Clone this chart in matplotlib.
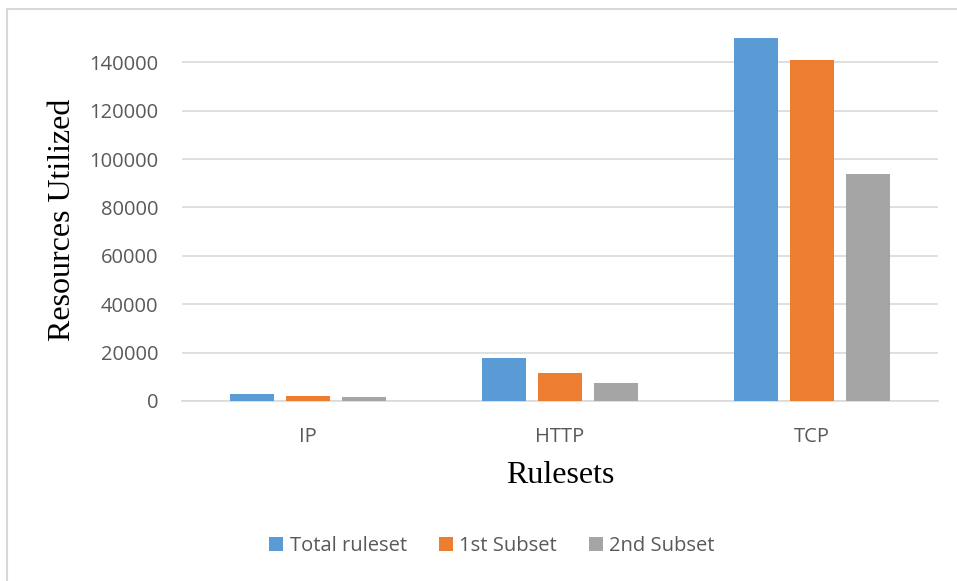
import matplotlib.pyplot as plt
import numpy as np
from matplotlib.patches import Rectangle

categories = ['IP', 'HTTP', 'TCP']
series_names = ['Total ruleset', '1st Subset', '2nd Subset']
total_ruleset = [2800, 17600, 150000]
subset_1st = [1950, 11500, 141000]
subset_2nd = [1550, 7600, 93700]
colors = ['#5B9BD5', '#ED7D31', '#A5A5A5']

W, H = 957, 581
fig = plt.figure(figsize=(W / 100, H / 100), dpi=100)
ax = fig.add_axes([182 / W, 1 - 401 / H, (938 - 182) / W, (401 - 38) / H])

# chart border (Excel-style frame, cut off at right/bottom)
fig.patches.append(Rectangle((7.5 / W, -0.1), 1.2, 1 - 9 / H + 0.1,
                             transform=fig.transFigure, fill=False,
                             edgecolor='#D9D9D9', linewidth=1.5))

x = np.arange(len(categories))
width = 44 / 252
step = 56 / 252
for i, (vals, name) in enumerate(zip([total_ruleset, subset_1st, subset_2nd], series_names)):
    ax.bar(x + (i - 1) * step, vals, width, color=colors[i], label=name, zorder=3)

ax.set_xlim(-0.5, 2.5)
ax.set_ylim(0, 150000)
ax.set_yticks(range(0, 140001, 20000))
ax.set_xticks(x)
ax.set_xticklabels(categories)
ax.grid(axis='y', color='#D9D9D9', linewidth=1.2, zorder=0)
for s in ['top', 'right', 'left']:
    ax.spines[s].set_visible(False)
ax.spines['bottom'].set_color('#D9D9D9')
ax.spines['bottom'].set_linewidth(1.2)
ax.tick_params(length=0, labelsize=14.5, labelcolor='#595959')
ax.tick_params(axis='y', pad=17)
ax.tick_params(axis='x', pad=19)
for lbl in ax.get_xticklabels() + ax.get_yticklabels():
    lbl.set_family('Open Sans')

ax.set_ylabel('Resources Utilized', family='Liberation Serif', fontsize=23, labelpad=9)
ax.set_xlabel('Rulesets', family='Liberation Serif', fontsize=23, labelpad=10)

ax.legend(loc='center', bbox_to_anchor=(492 / W, 1 - 546 / H), bbox_transform=fig.transFigure,
          ncol=3, frameon=False, handlelength=0.7, handleheight=0.7, handletextpad=0.3,
          columnspacing=1.6, prop={'family': 'Open Sans', 'size': 14.5}, labelcolor='#595959')

fig.savefig('out.png', dpi=100)
